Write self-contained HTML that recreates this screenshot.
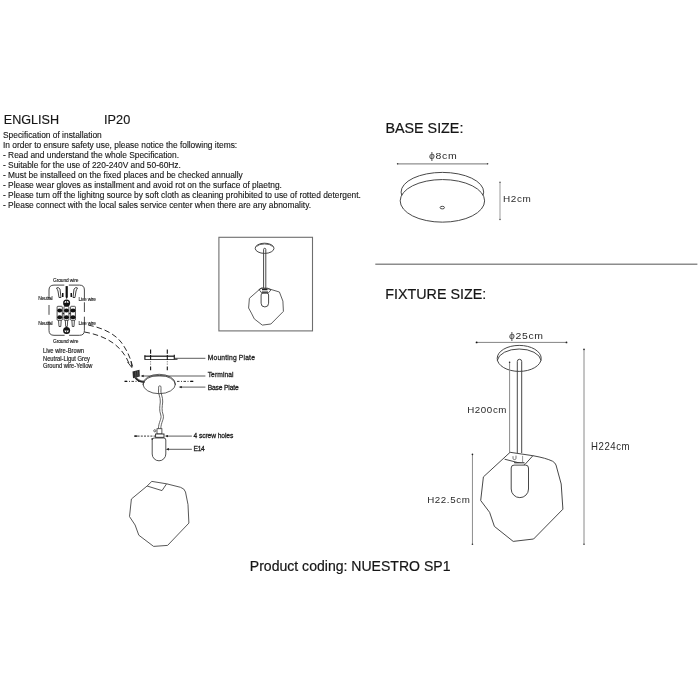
<!DOCTYPE html>
<html><head><meta charset="utf-8">
<style>
html,body{margin:0;padding:0;background:#fff;width:700px;height:700px;overflow:hidden}
svg{position:absolute;left:0;top:0;display:block;will-change:transform}
text{font-family:"Liberation Sans",sans-serif;fill:#161616}
.ins{font-size:8.4px;stroke:#161616;stroke-width:0.12px}
.dim{font-size:9.8px;fill:#2a2a2a;letter-spacing:0.6px}
.lab{font-size:6.4px;fill:#222;font-weight:bold}
.wl{font-size:4.9px;fill:#1a1a1a;stroke:#1a1a1a;stroke-width:0.12px}
.ln{fill:none;stroke:#3e3e3e;stroke-width:0.95}
.dl{fill:none;stroke:#8a8a8a;stroke-width:1}
</style></head><body>
<svg width="700" height="700" viewBox="0 0 700 700">
<!-- header text -->
<text x="3.8" y="124" style="font-size:12.6px;stroke:#161616;stroke-width:0.15px">ENGLISH</text>
<text x="104.1" y="124" style="font-size:12.7px;stroke:#161616;stroke-width:0.15px">IP20</text>
<text class="ins" x="3" y="138">Specification of installation</text>
<text class="ins" x="3" y="148">In order to ensure safety use, please notice the following items:</text>
<text class="ins" x="3" y="158">- Read and understand the whole Specification.</text>
<text class="ins" x="3" y="168">- Suitable for the use of 220-240V and 50-60Hz.</text>
<text class="ins" x="3" y="178">- Must be installeed on the fixed places and be checked annually</text>
<text class="ins" x="3" y="188">- Please wear gloves as installment and avoid rot on the surface of plaetng.</text>
<text class="ins" x="3" y="198">- Please tum off the lighitng source by soft cloth as cleaning prohibited to use of rotted detergent.</text>
<text class="ins" x="3" y="208">- Please connect with the local sales service center when there are any abnomality.</text>

<!-- BASE SIZE -->
<text x="385.5" y="132.7" style="font-size:14.3px;stroke:#161616;stroke-width:0.2px">BASE SIZE:</text>
<text class="dim" x="429" y="158.6" textLength="28.3" lengthAdjust="spacingAndGlyphs">ϕ8cm</text>
<line x1="397" y1="163.75" x2="488" y2="163.75" stroke="#8f8f8f" stroke-width="1.25"/><circle cx="397.6" cy="163.75" r="0.8" fill="#444"/><circle cx="487.6" cy="163.75" r="0.8" fill="#444"/>
<ellipse class="ln" cx="442.4" cy="192.1" rx="41.3" ry="19.7"/>
<ellipse class="ln" cx="442.4" cy="200.85" rx="42.2" ry="21.3" style="fill:#fff"/>
<ellipse class="ln" cx="442.3" cy="207.6" rx="2.2" ry="1.3"/>
<line x1="500" y1="182" x2="500" y2="219.7" stroke="#a5a5a5" stroke-width="1.1"/><circle cx="500" cy="182.2" r="0.75" fill="#555"/><circle cx="500" cy="219.5" r="0.75" fill="#555"/>
<text class="dim" x="503" y="202.1" textLength="28.4" lengthAdjust="spacingAndGlyphs">H2cm</text>

<!-- separator -->
<line x1="375.3" y1="264.25" x2="697.4" y2="264.25" stroke="#8c8c8c" stroke-width="1.4"/>
<text x="385.3" y="299.2" style="font-size:14.3px;stroke:#161616;stroke-width:0.2px">FIXTURE SIZE:</text>

<!-- fixture -->
<text class="dim" x="509" y="339" textLength="34.6" lengthAdjust="spacingAndGlyphs">ϕ25cm</text>
<line x1="476.5" y1="342.4" x2="566.6" y2="342.4" stroke="#858585" stroke-width="1"/><circle cx="476.6" cy="342.4" r="0.95" fill="#111"/><circle cx="566.5" cy="342.4" r="0.9" fill="#222"/>
<ellipse class="ln" cx="519.2" cy="358.4" rx="22" ry="13"/>
<path class="ln" d="M497.3,360.4 A22,12.6 0 0 1 541.1,360.4"/>
<path class="ln" d="M517.3,453 V361.5 A2.2,2.2 0 0 1 521.7,361.5 V453"/>
<line class="dl" x1="509.6" y1="362" x2="509.6" y2="452.4" stroke="#555"/><circle cx="509.6" cy="362.3" r="0.8" fill="#222"/>
<text class="dim" x="467.2" y="412.9" textLength="39.9" lengthAdjust="spacingAndGlyphs">H200cm</text>
<line class="dl" x1="584" y1="349" x2="584" y2="544.3" stroke="#aaa"/>
<text class="dim" x="591" y="449.8" textLength="39.2" lengthAdjust="spacingAndGlyphs" style="font-size:10.3px">H224cm</text>
<line x1="472.45" y1="454.1" x2="472.45" y2="544.5" stroke="#8e8e8e" stroke-width="1"/>
<circle cx="472.45" cy="454.4" r="0.8" fill="#222"/><circle cx="472.45" cy="544.3" r="0.8" fill="#333"/><circle cx="584" cy="349.3" r="0.85" fill="#333"/><circle cx="584" cy="544.2" r="0.8" fill="#444"/>
<text class="dim" x="427.2" y="502.5" textLength="43.2" lengthAdjust="spacingAndGlyphs">H22.5cm</text>
<path class="ln" d="M510.1,452.3 L532.9,455.7 Q546,458 552.5,461.2 Q555,462.5 556,465 L561.2,484 L562.9,509.2 L533.6,539 L513.2,541.4 L494.4,526.4 L489.6,512.3 L480.7,500.5 L483.4,476.9 Z"/>
<path class="ln" d="M504.6,459.2 L525,464.4 L532.9,455.7"/>
<path class="ln" d="M511.2,489 V468 Q511.2,465.1 514,465.1 H525.6 Q528.5,465.1 528.5,468 V489 A8.65,8.65 0 0 1 511.2,489 Z"/>
<path d="M514,462.6 H524.5" stroke="#3a3a3a" stroke-width="0.9"/><rect x="514.5" y="463" width="9.5" height="1.8" fill="#bbb"/>
<path d="M522.6,455.8 V462" stroke="#999" stroke-width="1"/>
<path d="M516,455.6 V458.3 Q516,459.6 514.5,459.6 Q513,459.6 513,458.3 V456.2" fill="none" stroke="#555" stroke-width="0.8"/>

<!-- framed picture -->
<rect x="218.9" y="237.3" width="93.6" height="93.6" fill="none" stroke="#6e6e6e" stroke-width="1.1"/>
<ellipse class="ln" cx="264.6" cy="248.3" rx="9.4" ry="5.1"/><path d="M256.5,246.5 A9,4.5 0 0 1 272.7,246.5" fill="none" stroke="#555" stroke-width="0.9"/>
<path class="ln" d="M263.6,288 V249.4 A1.1,1.1 0 0 1 265.8,249.4 V288"/>
<path class="ln" style="stroke:#555" d="M261.1,288 L269.1,288.9 L279.4,292 L282.9,301.1 L283.4,311.4 L270.9,324 L262.3,325.1 L254.3,318.9 L251.4,313.1 L248.6,308 L249.4,298.3 Z"/>
<path class="ln" d="M261.1,303.2 V295 Q261.1,293.1 263,293.1 H266.7 Q268.6,293.1 268.6,295 V303.2 A3.75,3.75 0 0 1 261.1,303.2 Z"/>
<path d="M259,289.5 L262,288.2 H267.5 L271,289.8 L268.5,292.8 H261.5Z" fill="none" stroke="#333" stroke-width="0.8"/>
<path d="M262,289.6 H267.5 M261.8,292 H268" stroke="#222" stroke-width="1.2"/>


<!-- wiring box -->
<g fill="none" stroke="#333" stroke-width="0.9">
<path d="M49,298.6 V290 Q49,285.1 54,285.1 H64.3"/>
<path d="M68.8,285.1 H79.5 Q84.4,285.1 84.4,290 V298.6"/>
<path d="M49,305 V314.8"/>
<path d="M84.4,302.3 V312"/>
<path d="M49,320.9 V330.5 Q49,335.3 54,335.3 H64.6"/>
<path d="M69.1,335.3 H79.5 Q84.4,335.3 84.4,330.5 V316.7"/>
</g>
<g class="wl">
<text x="53" y="282" textLength="25.5" lengthAdjust="spacing">Ground wire</text>
<text x="38.2" y="300.3" textLength="14.5" lengthAdjust="spacing">Neutral</text>
<text x="78.4" y="300.7" textLength="17.6" lengthAdjust="spacing">Live wire</text>
<text x="38.2" y="325.2" textLength="14.5" lengthAdjust="spacing">Neutral</text>
<text x="78.4" y="325.3" textLength="17.6" lengthAdjust="spacing">Live wire</text>
<text x="53" y="343" textLength="25.5" lengthAdjust="spacing">Ground wire</text>
</g>
<g style="font-size:6.6px;stroke:#1e1e1e;stroke-width:0.18px" fill="#1e1e1e">
<text x="43" y="353.2" textLength="41" lengthAdjust="spacingAndGlyphs" style="fill:#1e1e1e">Live wire-Brown</text>
<text x="43" y="360.7" textLength="47" lengthAdjust="spacingAndGlyphs" style="fill:#1e1e1e">Neutral-Ligut Grey</text>
<text x="43" y="368.2" textLength="49.5" lengthAdjust="spacingAndGlyphs" style="fill:#1e1e1e">Ground wire-Yellow</text>
</g>
<!-- terminals -->
<g fill="#111" stroke="#111" stroke-width="0.8">
<rect x="65.6" y="286.1" width="2.2" height="11" stroke="none"/>
<path d="M65.6,297 L66.7,299 L67.8,297Z" stroke="none"/>
<path d="M56.5,288 Q58,286.5 60,289 L61,297.5 L59,297.5 L58,291 Q57.5,289.5 56.5,288Z" fill="none"/>
<path d="M77.5,288 Q76,286.5 74,289 L73,297.5 L75,297.5 L76,291 Q76.5,289.5 77.5,288Z" fill="none"/>
<rect x="62" y="293" width="1.5" height="4" stroke="none"/>
<rect x="70.5" y="293" width="1.5" height="4" stroke="none"/>
<circle cx="66.6" cy="302.9" r="3.5" stroke="none"/>
<circle cx="66.6" cy="330.6" r="3.5" stroke="none"/>
</g>
<g fill="#fff" stroke="none">
<path d="M64.3,302.7 A2.35,2.35 0 0 1 68.9,302.7Z"/>
<path d="M64.3,330.6 A2.35,2.35 0 0 0 68.9,330.6Z"/>
</g>
<path d="M66.6,300 V303.5 M66.6,330.4 V333.5" stroke="#111" stroke-width="0.8"/>
<g fill="none" stroke="#222" stroke-width="0.8">
<rect x="57.1" y="306.3" width="5.2" height="14" rx="0.8"/>
<rect x="64" y="306.3" width="4.9" height="14" rx="0.8"/>
<rect x="70.6" y="306.3" width="4.8" height="14" rx="0.8"/>
<path d="M58.5,320.3 L59,326.5 H60.8 L61.2,320.3"/>
<path d="M65.3,320.3 L65.7,326.5 H67.3 L67.7,320.3"/>
<path d="M71.9,320.3 L72.3,326.5 H74 L74.4,320.3"/>
</g>
<g fill="#111">
<ellipse cx="59.7" cy="310.4" rx="2.5" ry="2"/>
<ellipse cx="66.45" cy="310.4" rx="2.5" ry="2"/>
<ellipse cx="73" cy="310.4" rx="2.5" ry="2"/>
<ellipse cx="59.7" cy="317.2" rx="2.5" ry="2"/>
<ellipse cx="66.45" cy="317.2" rx="2.5" ry="2"/>
<ellipse cx="73" cy="317.2" rx="2.5" ry="2"/>
<rect x="62.7" y="312.8" width="1.2" height="1.4"/>
<rect x="69.2" y="312.8" width="1.2" height="1.4"/>
</g>
<!-- dashed curves -->
<g fill="none" stroke="#2a2a2a" stroke-width="1" stroke-dasharray="5.5,3">
<path d="M88.3,325.1 C101,327.5 114,333 121,342 C127,350 130.5,358 132.6,366.5"/>
<path d="M84.5,332 C96,334 107,338 115,344.5 C122,350 126.5,357 129.4,364.2"/>
</g>
<path d="M127.5,362 L131.8,367.5 L131,361" fill="none" stroke="#222" stroke-width="0.9"/>
<!-- terminal block -->
<path d="M132.5,371.6 L139.5,369.8 L139.8,376.6 L133,378.2Z" fill="#2a2a2a"/>
<path d="M135.5,371.5 L136,377 M137.5,371 L138,376.5" stroke="#777" stroke-width="0.5"/>
<path d="M135.5,377.5 Q138,381.5 144.5,382" fill="none" stroke="#222" stroke-width="2.2"/>
<path d="M136.2,377.6 Q138.5,380.8 144.5,381.2" fill="none" stroke="#bbb" stroke-width="0.5"/>
<!-- mounting plate -->
<path d="M144.6,356.2 H174.5" stroke="#222" stroke-width="1.3"/>
<path d="M144.6,359.5 H174.5" stroke="#333" stroke-width="0.9"/>
<path d="M144.9,355.2 V359.6 M174.3,354.8 V359.6" stroke="#222" stroke-width="1.2"/>
<path d="M174.3,359.2 H177.5" stroke="#222" stroke-width="1.1"/>
<path d="M150.6,349.5 V353.8 M167.3,349.5 V353.8 M150.6,355 V360 M167.3,355 V360 M150.6,366.5 V370.2 M167.3,366.5 V370.2" stroke="#111" stroke-width="1.1"/>
<path d="M150.6,361.3 V362.3 M167.3,361.3 V362.3 M150.6,363.6 V364.6 M167.3,363.6 V364.6" stroke="#555" stroke-width="0.9"/>
<line x1="175" y1="358.3" x2="205.4" y2="358.3" stroke="#333" stroke-width="0.8"/>
<!-- base plate -->
<path d="M143,385.1 A16.2,9.7 0 0 1 175.4,385.1" fill="none" stroke="#333" stroke-width="0.8"/>
<ellipse cx="159.2" cy="384" rx="16.2" ry="9.7" fill="none" stroke="#333" stroke-width="0.8"/>
<path d="M125,381.4 H141 M177,381.4 H193" stroke="#222" stroke-width="0.9" stroke-dasharray="2.5,1.5,1,1.5"/>
<path d="M124.5,381.4 h2.5 M190.5,381.4 h2.8" stroke="#111" stroke-width="1.3"/>
<path d="M142,376 H205.4" stroke="#333" stroke-width="0.8"/>
<path d="M140.5,376 l3.2,-1.2 v2.4z" fill="#222"/>
<path d="M180,387.1 H205.4" stroke="#333" stroke-width="0.8"/>
<path d="M178.6,387.1 l3.2,-1.2 v2.4z" fill="#222"/>
<g style="font-size:6.7px;stroke:#222;stroke-width:0.28px" >
<text x="207.7" y="359.6" textLength="47.2" lengthAdjust="spacing" style="fill:#222">Mounting Plate</text>
<text x="207.7" y="376.8" textLength="25.9" lengthAdjust="spacing" style="fill:#222">Terminal</text>
<text x="207.7" y="389.7" textLength="31" lengthAdjust="spacing" style="fill:#222">Base Plate</text>
<text x="193.6" y="438.3" textLength="39.7" lengthAdjust="spacing" style="fill:#222">4 screw holes</text>
<text x="193.6" y="451.3" textLength="11.1" lengthAdjust="spacing" style="fill:#222">E14</text>
</g>
<!-- wire -->
<path d="M158.6,389 V387 A1.2,1.2 0 0 1 161,387 V389" fill="none" stroke="#333" stroke-width="0.7"/>
<path d="M158.6,389 C157.5,393 160.8,397 160.3,402 C159.8,407 159,410 160.8,415 C162,419 158.5,422 158.4,428.7" fill="none" stroke="#333" stroke-width="0.75"/>
<path d="M161,389 C160,393 163.2,397 162.7,402 C162.2,407 161.4,410 163.2,415 C164.4,419 161,422 160.8,428.7" fill="none" stroke="#333" stroke-width="0.75"/>
<rect x="157" y="428.7" width="4.9" height="5.3" fill="#fff" stroke="#333" stroke-width="0.8"/>
<rect x="155.6" y="434" width="8.4" height="3.3" fill="#fff" stroke="#222" stroke-width="0.9"/>
<circle cx="154.8" cy="430.8" r="1.1" fill="none" stroke="#333" stroke-width="0.7"/>
<path d="M152.2,438 V454 A6.8,6.8 0 0 0 165.8,454 V440 Q165.8,438 163.8,438 H154.2 Q152.2,438 152.2,440Z" fill="none" stroke="#333" stroke-width="0.85"/>
<path d="M134.4,436.1 H155" stroke="#222" stroke-width="0.9" stroke-dasharray="2,1.2"/>
<path d="M134.4,436.1 h3" stroke="#111" stroke-width="1.3"/>
<path d="M166,436.1 H191.9 M167,449.3 H191.9" stroke="#333" stroke-width="0.8"/>
<path d="M164.8,436.1 l3.2,-1.2 v2.4z M165.8,449.3 l3.2,-1.2 v2.4z" fill="#222"/>
<!-- glass -->
<path d="M151.8,481.4 L166.6,483.8 L180.5,487.3 Q184.5,488.5 185.5,492 L188,504.6 L188.9,523.1 L167.6,545.4 L153.6,546.4 L138.8,535.2 L135.1,525 L129.5,516.6 L131.4,499 L147.1,486 Z" fill="none" stroke="#444" stroke-width="0.9"/>
<path d="M147.1,486 L162,490.6 L166.6,483.8" fill="none" stroke="#444" stroke-width="0.9"/>

<!-- product coding -->
<text x="249.8" y="570.5" style="font-size:14.05px;stroke:#161616;stroke-width:0.2px">Product coding: NUESTRO SP1</text>
</svg>
</body></html>
